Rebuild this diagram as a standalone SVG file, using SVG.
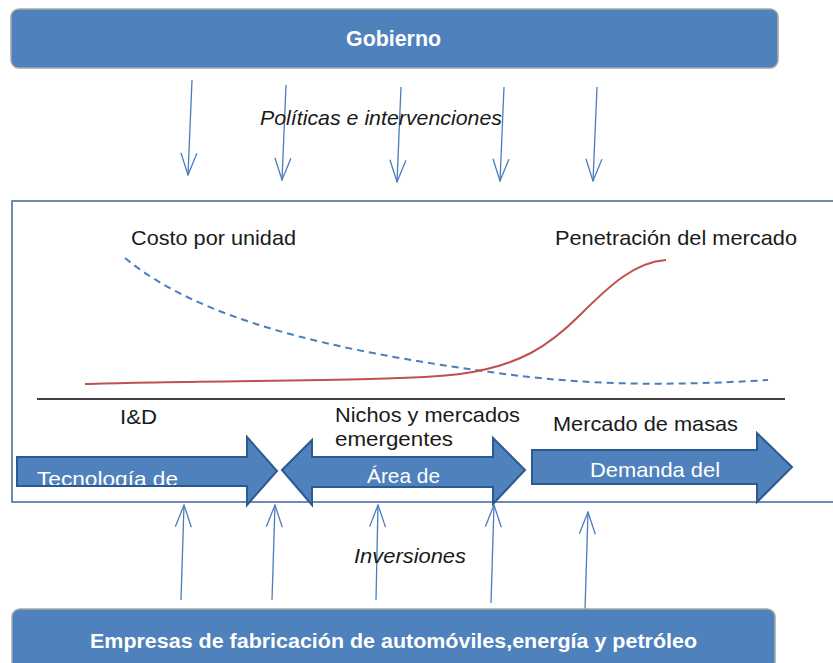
<svg xmlns="http://www.w3.org/2000/svg" width="833" height="663" viewBox="0 0 833 663">
<style>
.box{fill:#4F81BD;stroke:#A6A6A6;stroke-width:1.5}
.hdr{font-family:"Liberation Sans",Arial,sans-serif;font-weight:bold;fill:#fff}
.lbl{font-family:"Liberation Sans",Arial,sans-serif;fill:#1a1a1a;font-size:21px}
.it{font-style:italic}
.conn{stroke:#4A7EBB;stroke-width:1.3;fill:none}
.blk{fill:#4F81BD;stroke:#2C5A8F;stroke-width:2}
.wt{font-family:"Liberation Sans",Arial,sans-serif;fill:#fff;font-size:21px}
</style>
<defs>
<marker id="v" viewBox="0 0 24 18" refX="23" refY="9" markerWidth="24" markerHeight="18" markerUnits="userSpaceOnUse" orient="auto-start-reverse">
<path d="M1,1 L23,9 L1,17" fill="none" stroke="#4A7EBB" stroke-width="1.3"/>
</marker>
<clipPath id="c1"><rect x="17" y="457" width="260" height="28"/></clipPath>
</defs>
<rect width="833" height="663" fill="#fff"/>
<g id="gobierno">
<rect class="box" x="11" y="9" width="767" height="59" rx="8"/>
<text class="hdr" x="346" y="46" font-size="22" textLength="95" lengthAdjust="spacingAndGlyphs">Gobierno</text>
</g>
<g id="panel">
<rect x="12" y="201" width="840" height="301" fill="none" stroke="#41659A" stroke-width="1.5"/>
<line x1="37" y1="399" x2="785" y2="399" stroke="#000" stroke-width="1.5"/>
<path d="M125,258 C200,320 330,350 490,372 C560,382 640,388 768,380" fill="none" stroke="#4A7EBB" stroke-width="2" stroke-dasharray="7,5"/>
<path d="M85,384 C200,380 400,382 460,374 C520,366 550,345 580,315 C610,285 635,262 666,260" fill="none" stroke="#C0504D" stroke-width="2"/>
<text class="lbl" x="131" y="245" textLength="165" lengthAdjust="spacingAndGlyphs">Costo por unidad</text>
<text class="lbl" x="555" y="245" textLength="242" lengthAdjust="spacingAndGlyphs">Penetración del mercado</text>
<text class="lbl" x="120" y="424" textLength="37" lengthAdjust="spacingAndGlyphs">I&amp;D</text>
<text class="lbl" x="335" y="422" textLength="185" lengthAdjust="spacingAndGlyphs">Nichos y mercados</text>
<text class="lbl" x="335" y="446" textLength="118" lengthAdjust="spacingAndGlyphs">emergentes</text>
<text class="lbl" x="553" y="431" textLength="185" lengthAdjust="spacingAndGlyphs">Mercado de masas</text>
</g>
<g id="tecnologia">
<path class="blk" d="M17,457 L247,457 L247,437 L277,471 L247,505 L247,486 L17,486 Z"/>
<text class="wt" x="37" y="486" clip-path="url(#c1)" textLength="141" lengthAdjust="spacingAndGlyphs">Tecnología de</text>
</g>
<g id="area">
<path class="blk" d="M282,470 L312,440 L312,457 L493,457 L493,438 L525,470 L493,504 L493,487 L312,487 L312,505 Z"/>
<text class="wt" x="367" y="483" textLength="73" lengthAdjust="spacingAndGlyphs">Área de</text>
</g>
<g id="demanda">
<path class="blk" d="M532,450 L757,450 L757,433 L792,467 L757,502 L757,484 L532,484 Z"/>
<text class="wt" x="590" y="477" textLength="130" lengthAdjust="spacingAndGlyphs">Demanda del</text>
</g>
<g id="connectors">
<line class="conn" x1="192" y1="80" x2="188" y2="175" marker-end="url(#v)"/>
<line class="conn" x1="286" y1="85" x2="282" y2="180" marker-end="url(#v)"/>
<line class="conn" x1="401" y1="87" x2="397" y2="182" marker-end="url(#v)"/>
<line class="conn" x1="504" y1="87" x2="500" y2="181" marker-end="url(#v)"/>
<line class="conn" x1="597" y1="87" x2="593" y2="181" marker-end="url(#v)"/>
<line class="conn" x1="181" y1="600" x2="184" y2="505" marker-end="url(#v)"/>
<line class="conn" x1="272" y1="600" x2="275" y2="505" marker-end="url(#v)"/>
<line class="conn" x1="376" y1="600" x2="378" y2="505" marker-end="url(#v)"/>
<line class="conn" x1="491" y1="603" x2="494" y2="505" marker-end="url(#v)"/>
<line class="conn" x1="585" y1="610" x2="588" y2="512" marker-end="url(#v)"/>
<text class="lbl it" x="260" y="125" textLength="242" lengthAdjust="spacingAndGlyphs">Políticas e intervenciones</text>
<text class="lbl it" x="354" y="563" textLength="112" lengthAdjust="spacingAndGlyphs">Inversiones</text>
</g>
<g id="empresas">
<rect class="box" x="12" y="609" width="763" height="70" rx="8"/>
<text class="hdr" x="90" y="648" font-size="21" textLength="607" lengthAdjust="spacingAndGlyphs">Empresas de fabricación de automóviles,energía y petróleo</text>
</g>
</svg>
